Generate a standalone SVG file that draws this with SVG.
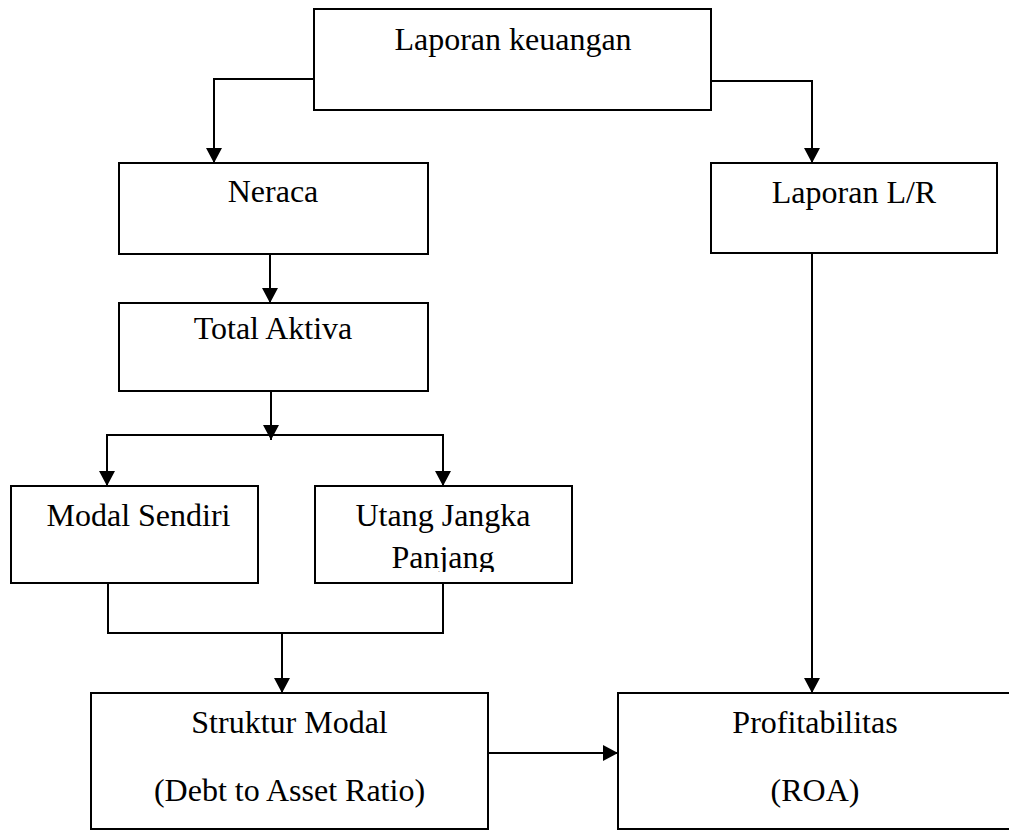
<svg xmlns="http://www.w3.org/2000/svg" width="1009" height="830" viewBox="0 0 1009 830">
<style>
.box{fill:#fff;stroke:#000;stroke-width:2}
.ln{fill:none;stroke:#000;stroke-width:2}
.t{font-family:"Liberation Serif","Times New Roman",serif;font-size:32px;fill:#000;text-anchor:middle}
</style>
<defs>
<marker id="ah" viewBox="0 0 15 16" markerWidth="15" markerHeight="16" refX="15" refY="8" orient="auto" markerUnits="userSpaceOnUse">
<path d="M0,0 L15,8 L0,16 z" fill="#000"/>
</marker>
<clipPath id="clipUtang"><rect x="315" y="486" width="257" height="86"/></clipPath>
</defs>
<rect width="1009" height="830" fill="#fff"/>
<g id="laporan-keuangan"><rect class="box" x="314" y="9" width="397" height="101"/><text class="t" x="513" y="50">Laporan keuangan</text></g>
<g id="neraca"><rect class="box" x="119" y="163" width="309" height="91"/><text class="t" x="273" y="202">Neraca</text></g>
<g id="laporan-lr"><rect class="box" x="711" y="163" width="286" height="90"/><text class="t" x="854" y="203">Laporan L/R</text></g>
<g id="total-aktiva"><rect class="box" x="119" y="303" width="309" height="88"/><text class="t" x="273" y="339">Total Aktiva</text></g>
<g id="modal-sendiri"><rect class="box" x="11" y="486" width="247" height="97"/><text class="t" x="138.5" y="526">Modal Sendiri</text></g>
<g id="utang-jangka-panjang"><rect class="box" x="315" y="486" width="257" height="97"/><g clip-path="url(#clipUtang)"><text class="t" x="443" y="526">Utang Jangka</text><text class="t" x="443" y="568">Panjang</text></g></g>
<g id="struktur-modal"><rect class="box" x="91" y="693" width="397" height="136"/><text class="t" x="289.5" y="733">Struktur Modal</text><text class="t" x="289.5" y="801">(Debt to Asset Ratio)</text></g>
<g id="profitabilitas"><rect class="box" x="618" y="693" width="394" height="136"/><text class="t" x="815" y="733">Profitabilitas</text><text class="t" x="815" y="801">(ROA)</text></g>
<g id="connectors">
<path class="ln" d="M314,79 H214 V163" marker-end="url(#ah)"/>
<path class="ln" d="M711,81 H812 V163" marker-end="url(#ah)"/>
<path class="ln" d="M270,254 V303" marker-end="url(#ah)"/>
<path class="ln" d="M271,391 V440" marker-end="url(#ah)"/>
<path class="ln" d="M107,486 V435 H443 V486" />
<path class="ln" d="M107,470 V486" marker-end="url(#ah)"/>
<path class="ln" d="M443,470 V486" marker-end="url(#ah)"/>
<path class="ln" d="M108,583 V633 H443 V583"/>
<path class="ln" d="M282,633 V693" marker-end="url(#ah)"/>
<path class="ln" d="M488,753 H618" marker-end="url(#ah)"/>
<path class="ln" d="M812,253 V693" marker-end="url(#ah)"/>
</g>
</svg>
